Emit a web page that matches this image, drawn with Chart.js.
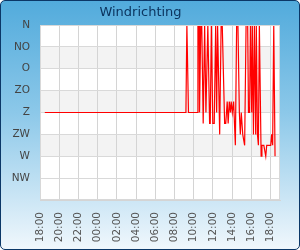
<!DOCTYPE html>
<html>
<head>
<meta charset="utf-8">
<script src="https://cdn.jsdelivr.net/npm/chart.js@4"></script>
<style>
  html, body { margin: 0; padding: 0; background: #fff; }
  #box {
    width: 300px; height: 250px; box-sizing: border-box;
    border: 1px solid #0b3767; border-radius: 5px;
    background: linear-gradient(to bottom, #52abdc 0%, #8cc8e9 45%, #f0f7fc 100%);
    overflow: hidden;
  }
  #wrap { position: relative; width: 298px; height: 248px; }
</style>
</head>
<body>
<div id="box"><div id="wrap"><canvas id="windChart"></canvas></div></div>
<script>
// meetmomenten (18:00 gisteren t/m 19:00 vandaag)
const times = ["18:30", "09:12", "09:18", "09:28", "10:23", "10:27", "10:34", "10:37", "10:45", "10:51",
    "11:00", "11:09", "11:17", "11:29", "11:40", "11:44", "11:51", "12:00", "12:09", "12:18",
    "12:24", "12:30", "12:43", "12:52", "12:59", "13:14", "13:21", "13:30", "13:36", "13:43",
    "13:50", "13:55", "14:02", "14:10", "14:21", "14:29", "14:37", "14:46", "14:52", "14:58",
    "15:07", "15:19", "15:28", "15:38", "15:43", "15:50", "15:55", "16:03", "16:07", "16:14",
    "16:20", "16:28", "16:32", "16:39", "16:45", "16:51", "17:02", "17:07", "17:19", "17:31",
    "17:37", "18:02", "18:08", "18:14", "18:21", "18:29"];
// windrichting in graden
const directions = [180, 180, 0, 180, 180, 0, 0, 180, 0, 0,
    202.5, 0, 180, 0, 202.5, 202.5, 0, 202.5, 202.5, 0,
    180, 0, 225, 0, 0, 202.5, 202.5, 157.5, 202.5, 157.5,
    180, 157.5, 180, 157.5, 247.5, 0, 0, 180, 225, 180,
    225, 247.5, 0, 0, 180, 180, 0, 180, 0, 225,
    0, 225, 0, 225, 247.5, 0, 270, 247.5, 247.5, 270,
    247.5, 247.5, 225, 247.5, 0, 270];
const dirLabels = ["N", "NO", "O", "ZO", "Z", "ZW", "W", "NW", ""];
const timeTicks = ["18:00", "20:00", "22:00", "00:00", "02:00", "04:00", "06:00",
    "08:00", "10:00", "12:00", "14:00", "16:00", "18:00"];
const startHour = 18;

function toMinutes(t) {
    const p = t.split(":");
    return (+p[0]) * 60 + (+p[1]) - startHour * 60;
}

// tijd -> minuten sinds 18:00
let prev = -Infinity;
const points = times.map(function (t, i) {
    let m = toMinutes(t);
    while (m < prev) m += 1440;
    prev = m;
    return { x: m, y: directions[i] };
});

prev = -Infinity;
const tickValues = timeTicks.map(function (t) {
    let m = toMinutes(t);
    while (m < prev) m += 1440;
    prev = m;
    return m;
});

const plotBg = {
    id: "plotBg",
    beforeDraw: function (chart) {
        const c = chart.ctx, a = chart.chartArea, y = chart.scales.y;
        c.save();
        c.fillStyle = "#ffffff";
        c.fillRect(a.left, a.top, a.right - a.left, a.bottom - a.top);
        c.fillStyle = "#f3f3f3";
        [[45, 90], [135, 180], [225, 270]].forEach(function (b) {
            const y1 = y.getPixelForValue(b[0]), y2 = y.getPixelForValue(b[1]);
            c.fillRect(a.left, y1, a.right - a.left, y2 - y1);
        });
        c.restore();
    },
    afterDraw: function (chart) {
        const c = chart.ctx, a = chart.chartArea;
        c.save();
        c.strokeStyle = "#d8d8d8";
        c.lineWidth = 1;
        c.strokeRect(a.left + 0.5, a.top + 0.5, a.right - a.left - 1, a.bottom - a.top - 1);
        c.restore();
    }
};

Chart.defaults.font.family = "'DejaVu Sans', sans-serif";

new Chart(document.getElementById("windChart"), {
    type: "line",
    data: {
        datasets: [{
            data: points,
            borderColor: "#ff0000",
            borderWidth: 1.2,
            pointRadius: 0,
            tension: 0,
            fill: false
        }]
    },
    options: {
        responsive: true,
        maintainAspectRatio: false,
        animation: false,
        layout: { padding: { right: 19 } },
        plugins: {
            legend: { display: false },
            tooltip: { enabled: false },
            title: {
                display: true,
                text: "Windrichting",
                color: "#0c3560",
                font: { size: 13, weight: "normal" },
                padding: { top: 4, bottom: 4.4 }
            }
        },
        scales: {
            x: {
                type: "linear",
                min: 0,
                max: 1500,
                afterFit: function (s) { s.height = 49; },
                afterBuildTicks: function (s) {
                    s.ticks = tickValues.map(function (v) { return { value: v }; });
                },
                grid: { color: "#d4d4d4", drawTicks: false },
                border: { color: "#d4d4d4" },
                ticks: {
                    autoSkip: false,
                    maxRotation: 90,
                    minRotation: 90,
                    padding: 12,
                    color: "#555555",
                    font: { size: 10.5 },
                    callback: function (v, i) { return timeTicks[i]; }
                }
            },
            y: {
                type: "linear",
                reverse: true,
                min: 0,
                max: 360,
                afterFit: function (s) { s.width = 39; },
                grid: { color: "#d9d9d9", drawTicks: false },
                border: { color: "#d4d4d4" },
                ticks: {
                    stepSize: 45,
                    padding: 10,
                    color: "#444444",
                    font: { size: 10.5 },
                    callback: function (v) { return dirLabels[Math.round(v / 45)]; }
                }
            }
        }
    },
    plugins: [plotBg]
});
</script>
</body>
</html>
